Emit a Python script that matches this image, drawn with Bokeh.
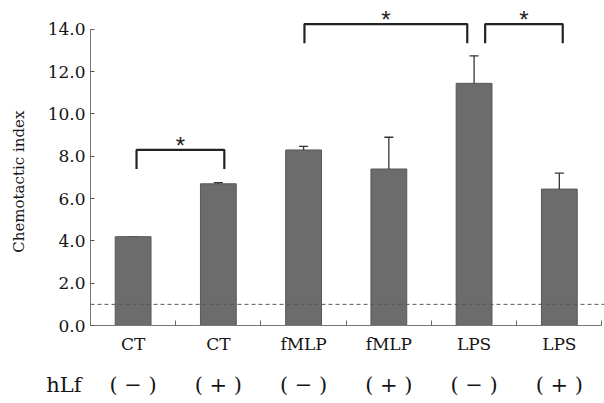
from bokeh.plotting import figure
from bokeh.models import (LinearAxis, FixedTicker, Span, Range1d, Whisker,
                          ColumnDataSource, TeeHead)
from bokeh.embed import file_html
from bokeh.resources import INLINE

# ---- data ----
groups = ["CT", "CT", "fMLP", "fMLP", "LPS", "LPS"]
hlf = ["( \u2212 )", "( + )", "( \u2212 )", "( + )", "( \u2212 )", "( + )"]
row_title = "hLf"
y_title = "Chemotactic index"
means = [4.2, 6.7, 8.3, 7.4, 11.45, 6.45]
upper = [4.2, 6.75, 8.47, 8.9, 12.75, 7.2]
baseline = 1.0
y_ticks = [0, 2, 4, 6, 8, 10, 12, 14]
y_tick_labels = ["0.0", "2.0", "4.0", "6.0", "8.0", "10.0", "12.0", "14.0"]
# significance brackets: (left x, right x, top y, leg bottom y)
br_left = [0.54, 2.51, 4.63]
br_right = [1.57, 4.42, 5.54]
br_top = [8.3, 14.25, 14.25]
br_leg = [7.4, 13.35, 13.35]

FONT = "DejaVu Serif"
TXT = "#151515"

xc = [i + 0.5 for i in range(len(groups))]

p = figure(width=604, height=403, output_backend="svg", toolbar_location=None,
           x_range=Range1d(0, 6.03), y_range=Range1d(0, 15.13),
           min_border_left=90, min_border_right=0, min_border_top=5,
           min_border_bottom=78, x_axis_location=None, y_axis_location=None)
p.outline_line_color = None
p.grid.visible = False
p.background_fill_color = "white"
p.border_fill_color = "white"

# y axis
ya = LinearAxis(ticker=FixedTicker(ticks=y_ticks), bounds=(0, 14),
                major_label_overrides={t: l for t, l in zip(y_ticks, y_tick_labels)},
                major_label_text_font=FONT, major_label_text_font_size="17px",
                major_label_text_color=TXT,
                major_tick_in=4, major_tick_out=0, minor_tick_line_color=None,
                axis_line_color="#777777", major_tick_line_color="#555555",
                major_label_standoff=5)
p.add_layout(ya, "left")

# y title as a rotated label of a second (line-less) left axis
y_title_pos = 6.8
ya2 = LinearAxis(ticker=FixedTicker(ticks=[y_title_pos]),
                 major_label_overrides={y_title_pos: y_title},
                 major_label_orientation="parallel",
                 major_label_text_font=FONT, major_label_text_font_size="15px",
                 major_label_text_color=TXT,
                 axis_line_color=None, major_tick_line_color=None,
                 minor_tick_line_color=None, major_label_standoff=10)
p.add_layout(ya2, "left")

# x axis (boundary ticks)
xa = LinearAxis(ticker=FixedTicker(ticks=[1, 2, 3, 4, 5, 6]), bounds=(0, 6),
                major_label_text_font_size="1px", major_label_text_color=None,
                major_tick_in=5, major_tick_out=0,
                minor_tick_line_color=None, axis_line_color="#777777",
                major_tick_line_color="#666666", major_label_standoff=0)
p.add_layout(xa, "below")

# category labels
xa2 = LinearAxis(ticker=FixedTicker(ticks=xc),
                 major_label_overrides={x: g for x, g in zip(xc, groups)},
                 major_label_text_font=FONT, major_label_text_font_size="17px",
                 major_label_text_color=TXT,
                 axis_line_color=None, major_tick_line_color=None,
                 minor_tick_line_color=None, major_label_standoff=2)
p.add_layout(xa2, "below")

# hLf row; the row title sits at the frame's left edge, padded on its right
# with no-break spaces so that its visible part lies left of the y axis
row_title_pos = 0.0
pad = "\u00a0" * 8
xa3 = LinearAxis(ticker=FixedTicker(ticks=[row_title_pos] + xc),
                 major_label_overrides={**{row_title_pos: row_title + pad},
                                        **{x: h for x, h in zip(xc, hlf)}},
                 major_label_text_font=FONT, major_label_text_font_size="21px",
                 major_label_text_color=TXT,
                 axis_line_color=None, major_tick_line_color=None,
                 minor_tick_line_color=None, major_label_standoff=10)
p.add_layout(xa3, "below")

# baseline dashed line
p.add_layout(Span(location=baseline, dimension="width", line_color="#555555",
                  line_dash="4 3", line_width=1))

# bars
src = ColumnDataSource(dict(x=xc, top=means, upper=upper))
p.vbar(x="x", top="top", bottom=0, width=0.42, source=src,
       fill_color="#6c6c6c", line_color="#585858", line_width=1)

# error bars (upper only)
p.segment(x0="x", y0="top", x1="x", y1="upper", source=src,
          line_color="#333333", line_width=1.3)
p.add_layout(Whisker(source=src, base="x", lower="upper", upper="upper",
                     line_color="#333333", line_width=1.3,
                     upper_head=TeeHead(size=9, line_color="#333333", line_width=1.3),
                     lower_head=None))

# significance brackets
for l, r, t, b in zip(br_left, br_right, br_top, br_leg):
    p.line(x=[l, l, r, r], y=[b, t, t, b], line_color="#222222", line_width=2.2)
    p.text(x=[(l + r) / 2], y=[t + 0.2], text=["*"], text_font_size="24px",
           text_align="center", text_baseline="middle", text_color="#222222")

open("out.html", "w").write(file_html(p, INLINE))
